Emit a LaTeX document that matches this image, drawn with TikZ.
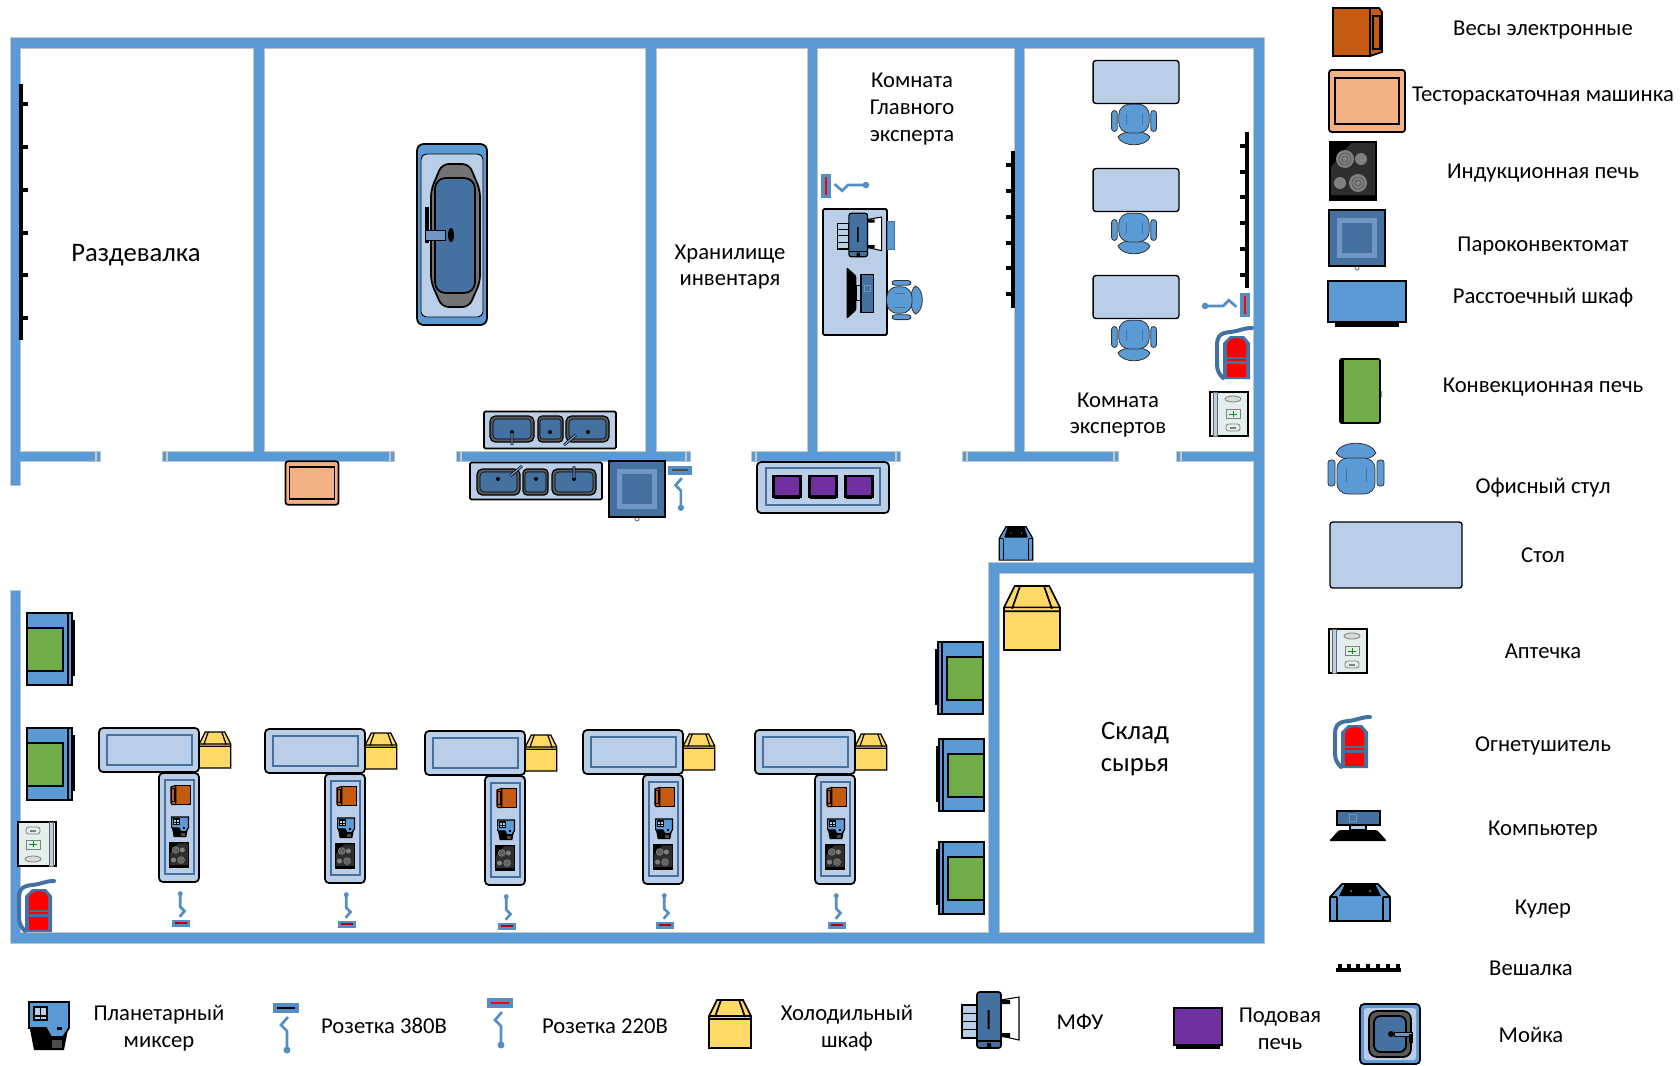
\documentclass[tikz,border=0pt]{standalone}
\usepackage{fontspec}
\setmainfont{Carlito}
\definecolor{wallblue}{HTML}{5B9BD5}
\definecolor{walledge}{HTML}{C8C8C8}
\definecolor{steelblue}{HTML}{44719F}
\definecolor{paleblue}{HTML}{BBCEE8}
\definecolor{midblue}{HTML}{6F96C4}
\definecolor{scaleorange}{HTML}{C55A11}
\definecolor{peach}{HTML}{F4B183}
\definecolor{ovengreen}{HTML}{70AD47}
\definecolor{fridgeyellow}{HTML}{FFD966}
\definecolor{ovenpurple}{HTML}{7030A0}
\definecolor{kitgreen}{HTML}{E3EFEC}
\def\outlw{1.3pt}
\tikzset{
	outl/.style={draw=black,line width=\outlw},
	small/.code={\def\outlw{0.9pt}},
	plantext/.style={font=\fontsize{17}{20}\selectfont,align=center},
	bigtext/.style={font=\fontsize{20}{24}\selectfont,align=center},
	pics/tablebox/.style={code={
		\draw[black,line width=1pt,fill=paleblue,rounded corners=2] (-66,-33) rectangle (66,33);
	}},
	pics/scalesbox/.style={code={
		\draw[outl,fill=scaleorange] (-24,-24) rectangle (13,24);
		\draw[outl,fill=scaleorange] (13,-24) -- (22,-24) -- (25,-20) -- (25,20) -- (13,24) -- cycle;
		\draw[outl] (16,-16) rectangle (23,17);
	}},
	pics/sheeterbox/.style={code={
		\draw[outl,fill=peach,rounded corners=2] (-38,-31) rectangle (38,31);
		\draw[outl] (-32,-23) rectangle (32,23);
	}},
	pics/inductionbox/.style={code={
		\fill[black] (-24,-30) rectangle (24,30);
		\fill[black!82] (-22,24) -- (-22,-4) -- (-2,-28) -- (22,-28) -- (22,24) -- cycle;
		\fill[gray] (-8,-12) circle (9) (8,-12) circle (6) (-13,12) circle (6) (5,12) circle (9);
		\draw[black!70,line width=0.4pt] (-8,-12) circle (6) (-8,-12) circle (3) (5,12) circle (6) (5,12) circle (3);
	}},
	pics/steambox/.style={code={
		\draw[black!70,line width=0.5pt] (0,30) circle (2);
		\draw[outl,fill=steelblue] (-28,-28) rectangle (28,28);
		\fill[midblue] (-20,-20) rectangle (20,20);
		\fill[steelblue] (-15,-15) rectangle (15,15);
	}},
	pics/prooferbox/.style={code={
		\fill[black] (-32,20) rectangle (32,25);
		\draw[outl,fill=wallblue] (-39,-21) rectangle (39,20);
	}},
	pics/convectionbox/.style={code={
		\fill[ovengreen] (-21,-24) rectangle (-19,-18) (-21,18) rectangle (-19,24) (19,0) rectangle (22,6);
		\draw[outl,fill=ovengreen,rounded corners=1] (-20,-32) rectangle (20,32);
		\fill[black] (-19,-31) rectangle (-16,31);
	}},
	pics/ovenstand/.style={code={
		\fill[black] (22,-29) rectangle (25,27);
		\draw[outl,fill=wallblue] (-23,-36) rectangle (22,36);
		\draw[outl] (18,-36) -- (18,36);
		\draw[black,line width=2pt,fill=ovengreen] (-23,-21) rectangle (13,22);
	}},
	pics/chairbox/.style={code={
		\draw[black!80,line width=0.6pt,fill=wallblue] (-20,-15) .. controls (-15,-28) and (15,-28) .. (20,-15) .. controls (15,-6) and (-15,-6) .. cycle;
		\draw[black!80,line width=0.6pt,fill=wallblue,rounded corners=2] (-28,-8) rectangle (-21,18);
		\draw[black!80,line width=0.6pt,fill=wallblue,rounded corners=2] (21,-8) rectangle (28,18);
		\draw[black!80,line width=0.6pt,fill=wallblue,rounded corners=8] (-19,-10) rectangle (19,26);
		\draw[steelblue,line width=0.5pt] (-10,0) -- (-10,14) (10,0) -- (10,14);
	}},
	pics/kitbox/.style={code={
		\draw[outl,fill=kitgreen] (-19,-22) rectangle (19,22);
		\draw[black!60,line width=0.6pt,fill=paleblue] (-16,-22) rectangle (-12,22);
		\draw[gray,line width=0.6pt,fill=gray!30] (4,-15) ellipse (8 and 3);
		\draw[gray,line width=0.6pt] (-3,-5) rectangle (11,4);
		\draw[green!60!black,line width=0.5pt] (0,0) -- (8,0) (4,-3) -- (4,3);
		\draw[gray,line width=0.6pt,rounded corners=2] (-3,10) rectangle (11,17);
		\fill[gray] (1,12.5) rectangle (7,14.5);
	}},
	pics/firebox/.style={code={
		\fill[steelblue] (-12,-10) -- (-5,-17) -- (9,-17) -- (15,-10) -- (15,26) -- (-12,26) -- cycle;
		\draw[steelblue,line width=3pt,line cap=round] (17,-25) .. controls (8,-25) and (5,-22) .. (-5,-21) .. controls (-17,-20) and (-18,-14) .. (-18,-8) -- (-18,12) .. controls (-18,18) and (-15,22) .. (-12,25);
		\fill[red] (-8,-8) .. controls (-8,-12) and (-3,-15) .. (2,-15) .. controls (7,-15) and (11,-12) .. (11,-8) -- (11,4) -- (-8,4) -- cycle;
		\fill[red] (-8,6) rectangle (11,7.5);
		\fill[red] (-8,11) rectangle (11,24);
	}},
	pics/computerbox/.style={code={
		\draw[outl,fill=steelblue] (-21,-15) rectangle (22,-1);
		\draw[midblue,line width=0.5pt] (-9,-12) rectangle (-2,-5);
		\draw[outl,fill=paleblue] (-8,-1) rectangle (8,4);
		\fill[black,rounded corners=1] (-29,15) -- (-19,4) -- (19,4) -- (29,15) -- cycle;
	}},
	pics/coolerbox/.style={code={
		\draw[outl,fill=wallblue] (-30,-5) -- (-18,-18) -- (18,-18) -- (30,-5) -- (30,19) -- (-30,19) -- cycle;
		\fill[black] (-21,-6) -- (-15,-18) -- (15,-18) -- (21,-6) -- cycle;
		\draw[outl] (-23,-5) -- (-23,19) (23,-5) -- (23,19) (-30,-5) -- (-23,-5) (23,-5) -- (30,-5);
		\fill[ovengreen] (-9,-11) circle (1) (10,-11) circle (1);
	}},
	pics/fridgebox/.style={code={
		\draw[outl,fill=fridgeyellow] (-21,-8) -- (-13,-24) -- (13,-24) -- (21,-8) -- (21,24) -- (-21,24) -- cycle;
		\draw[outl] (-15,-7) -- (-9,-24) (15,-7) -- (9,-24) (-21,-8) -- (21,-8) (-21,-5) -- (21,-5);
	}},
	pics/mixerbox/.style={code={
		\fill[black] (-20,-2) -- (-15,24) -- (15,24) -- (20,-2) -- cycle;
		\draw[outl,fill=wallblue] (-20,-24) -- (20,-24) -- (20,2) -- (14,11) -- (2,11) -- (-3,2) -- (-20,2) -- cycle;
		\draw[outl,fill=paleblue] (-15,-19) rectangle (-2,-6);
		\draw[outl] (-8.5,-19) -- (-8.5,-6) (-15,-10) -- (-2,-10);
		\fill[black] (8,1) rectangle (13,4);
		\fill[black!70] (3,14) rectangle (13,22);
	}},
	pics/socketbox/.style={code={
		\draw[wallblue!70!steelblue,line width=2pt] (2,-11) -- (-5,-3) -- (1,3) -- (1,20);
		\fill[wallblue!70!steelblue] (1,22) circle (3.5);
		\fill[wallblue!70!steelblue] (-13,-25) rectangle (13,-15);
		\draw[#1,line width=1.2pt] (-9,-20) -- (9,-20);
	}},
	pics/mfubox/.style={code={
		\draw[black,line width=0.8pt,fill=white] (11,-20) -- (29,-23) -- (29,20) -- (11,16) -- cycle;
		\fill[black] (11,-20) rectangle (20,-16) (11,13) rectangle (20,17);
		\draw[outl,fill=paleblue] (-28,-15) rectangle (-13,18);
		\draw[black,line width=0.5pt] (-28,-7) -- (-13,-7) (-28,1) -- (-13,1) (-28,9) -- (-13,9);
		\draw[outl,fill=steelblue,rounded corners=2] (-13,-28) rectangle (11,28);
		\draw[outl] (-13,21) -- (11,21);
		\fill[black] (-2.5,-10) rectangle (-0.5,9) (-3,23) rectangle (1,27);
	}},
	pics/ovenbox/.style={code={
		\fill[black] (-22,17) rectangle (22,21);
		\draw[black,line width=2pt,fill=ovenpurple] (-24,-20) rectangle (24,17);
	}},
	pics/sinkbox/.style={code={
		\draw[outl,fill=wallblue,rounded corners=3] (-30,-30) rectangle (30,30);
		\fill[paleblue,rounded corners=2] (-26,-26) rectangle (26,26);
		\draw[outl,fill=black!65,rounded corners=6] (-21,-23) rectangle (21,23);
		\draw[outl,fill=steelblue,rounded corners=5] (-16,-18) rectangle (16,18);
		\fill[black] (1,0) circle (3);
		\draw[black,line width=0.5pt,fill=midblue] (4,-2) rectangle (22,2);
		\fill[black] (19,0) rectangle (23,9);
	}},
	pics/sinktriple/.style={code={
		\draw[outl,fill=paleblue,rounded corners=1] (-66,-18.5) rectangle (66,18.5);
		\draw[black,line width=0.9pt,fill=black!65,rounded corners=4] (-60,-14) rectangle (-16,12);
		\draw[black,line width=0.9pt,fill=black!65,rounded corners=3] (-12,-14) rectangle (13,12);
		\draw[black,line width=0.9pt,fill=black!65,rounded corners=4] (16,-14) rectangle (59,12);
		\draw[black,line width=0.4pt,fill=steelblue,rounded corners=3] (-57,-11) rectangle (-19,9);
		\draw[black,line width=0.4pt,fill=steelblue,rounded corners=2] (-10,-11) rectangle (11,9);
		\draw[black,line width=0.4pt,fill=steelblue,rounded corners=3] (19,-11) rectangle (56,9);
		\fill[black] (-38,2) circle (2) (0,2) circle (2) (38,2) circle (2);
		\draw[black,line width=2pt] (-38,2) -- (-38,15) (26,5) -- (14,15);
		\draw[midblue,line width=1pt] (-38,3) -- (-38,15) (26,5) -- (14,15);
	}},
	pics/workstation/.style={code={
		\draw[outl,fill=paleblue,rounded corners=3] (0,0) rectangle (100,44);
		\draw[steelblue,line width=1pt] (8,7) rectangle (93,37);
		\pic[small,scale=.75] at (116,22) {fridgebox};
		\draw[outl,fill=paleblue,rounded corners=3] (60,45) rectangle (100,154);
		\draw[steelblue,line width=1pt] (66,52) rectangle (95,146);
		\pic[small,rotate=180,scale=.4] at (82,67) {scalesbox};
		\pic[small,scale=.42] at (81,99) {mixerbox};
		\pic[small,scale=.42] at (80,127) {inductionbox};
		\pic[rotate=180,scale=.7] at (82,181) {socketbox=red!70!black};
	}},
}
\newcommand{\wallplan}{
	(11,38) rectangle (1264,48)
	(11,38) rectangle (20,485)
	(11,591) rectangle (20,943)
	(11,933) rectangle (1264,943)
	(1254,38) rectangle (1264,400)
	(1254,400) rectangle (1264,943)
	(254,38) rectangle (264,456)
	(646,38) rectangle (656,456)
	(808,38) rectangle (817,456)
	(1015,48) rectangle (1024,456)
	(11,452) rectangle (100,461)
	(163,452) rectangle (394,461)
	(457,452) rectangle (690,461)
	(752,452) rectangle (900,461)
	(963,452) rectangle (1118,461)
	(1177,452) rectangle (1259,461)
	(989,563) rectangle (1259,573)
	(989,563) rectangle (999,938)
}

\begin{document}
\begin{tikzpicture}[x=0.75pt,y=-0.75pt]
	\useasboundingbox (0,0) rectangle (1680,1065);

	%Walls
	\draw[walledge,line width=1.6pt] \wallplan;
	\fill[wallblue] \wallplan;
	\draw[walledge,line width=0.8pt] (96,452) -- (96,461) (167,452) -- (167,461) (390,452) -- (390,461) (461,452) -- (461,461) (686,452) -- (686,461) (756,452) -- (756,461) (896,452) -- (896,461) (967,452) -- (967,461) (1114,452) -- (1114,461) (1181,452) -- (1181,461);

	%Shape: Hanger
	\draw[black,line width=3pt] (21,84) -- (21,340);
	\draw[black,line width=2.5pt] (21,104) -- ++(7,0) (21,147) -- ++(7,0) (21,190) -- ++(7,0) (21,233) -- ++(7,0) (21,275) -- ++(7,0) (21,318) -- ++(7,0);
	\draw[black,line width=3pt] (1013,151) -- (1013,308);
	\draw[black,line width=2.5pt] (1013,165) -- ++(-7,0) (1013,191) -- ++(-7,0) (1013,217) -- ++(-7,0) (1013,243) -- ++(-7,0) (1013,268) -- ++(-7,0) (1013,294) -- ++(-7,0);
	\draw[black,line width=3pt] (1247,132) -- (1247,288);
	\draw[black,line width=2.5pt] (1247,146) -- ++(-7,0) (1247,172) -- ++(-7,0) (1247,197) -- ++(-7,0) (1247,223) -- ++(-7,0) (1247,249) -- ++(-7,0) (1247,275) -- ++(-7,0);

	%Shape: Big sink
	\draw[outl,fill=wallblue,rounded corners=5] (417,144) rectangle (487,325);
	\draw[black,line width=0.7pt,fill=paleblue,rounded corners=4] (421,154) rectangle (483,317);
	\draw[outl,fill=black!55,rounded corners=5] (431,190) -- (442,164) -- (469,164) -- (480,190) -- (480,282) -- (469,307) -- (442,307) -- (431,282) -- cycle;
	\draw[outl,fill=steelblue,rounded corners=8] (435,178) rectangle (475,293);
	\fill[black] (425,207) rectangle (429,243);
	\draw[black,line width=0.5pt,fill=midblue] (425,230) rectangle (445,240);
	\fill[black] (451,235) ellipse (3 and 7);
	%Shape: Sinks
	\pic at (550,430) {sinktriple};
	\pic[rotate=180] at (536,481) {sinktriple};
	\pic at (637,489) {steambox};
	\pic[scale=.9] at (680,488) {socketbox=black!70};
	\pic[scale=.7] at (312,483) {sheeterbox};

	%Shape: Oven table
	\draw[outl,fill=paleblue,rounded corners=3] (757,462) rectangle (889,513);
	\draw[steelblue,line width=1pt] (766,468) rectangle (880,505);
	\pic[small,xscale=.57,yscale=.55] at (787,487) {ovenbox};
	\pic[small,xscale=.57,yscale=.55] at (823,487) {ovenbox};
	\pic[small,xscale=.57,yscale=.55] at (859,487) {ovenbox};

	%Shape: Chief expert desk
	\draw[outl,fill=paleblue,rounded corners=1] (823,209) rectangle (887,335);
	\draw[steelblue,line width=0.6pt,fill=wallblue] (887,221) rectangle (894,249);
	\pic[small,scale=.78] at (859,235) {mfubox};
	\pic[small,rotate=-90,scale=.9] at (860,293) {computerbox};
	\pic[rotate=-90,scale=.7] at (905,300) {chairbox};
	\pic[rotate=90,scale=.95] at (845,186) {socketbox=red};

	%Shape: Expert tables
	\pic[scale=.65] at (1136,82) {tablebox};
	\pic[scale=.65] at (1136,190) {tablebox};
	\pic[scale=.65] at (1136,297) {tablebox};
	\pic[rotate=180,scale=.8] at (1134,125) {chairbox};
	\pic[rotate=180,scale=.8] at (1134,234) {chairbox};
	\pic[rotate=180,scale=.8] at (1134,341) {chairbox};
	\pic[rotate=-90,scale=.95] at (1226,305) {socketbox=red};
	\pic at (1235,353) {firebox};
	\pic at (1229,414) {kitbox};

	%Shape: Storage
	\pic[small,xscale=.56,yscale=.9] at (1016,543) {coolerbox};
	\pic[scale=1.33] at (1032,618) {fridgebox};
	\pic[xscale=-1] at (960,678) {ovenstand};
	\pic[xscale=-1] at (961,775) {ovenstand};
	\pic[xscale=-1] at (961,878) {ovenstand};

	%Shape: Workshop
	\pic at (50,649) {ovenstand};
	\pic at (50,764) {ovenstand};
	\pic[rotate=180] at (37,844) {kitbox};
	\pic at (37,906) {firebox};
	\pic at (99,728) {workstation};
	\pic at (265,729) {workstation};
	\pic at (425,731) {workstation};
	\pic at (583,730) {workstation};
	\pic at (755,730) {workstation};

	%Legend right
	\pic at (1357,32) {scalesbox};
	\pic at (1367,101) {sheeterbox};
	\pic at (1353,171) {inductionbox};
	\pic at (1357,238) {steambox};
	\pic at (1367,302) {prooferbox};
	\pic at (1360,391) {convectionbox};
	\pic at (1356,468) {chairbox};
	\pic at (1396,555) {tablebox};
	\pic at (1348,651) {kitbox};
	\pic at (1353,742) {firebox};
	\pic at (1358,826) {computerbox};
	\pic at (1360,902) {coolerbox};
	\draw[black,line width=3pt] (1336,970) -- (1401,970);
	\draw[black,line width=2.5pt] (1340,970) -- ++(0,-6) (1349,970) -- ++(0,-6) (1358,970) -- ++(0,-6) (1368,970) -- ++(0,-6) (1378,970) -- ++(0,-6) (1388,970) -- ++(0,-6) (1398,970) -- ++(0,-6);
	\pic at (1390,1034) {sinkbox};

	%Legend bottom
	\pic at (49,1026) {mixerbox};
	\pic at (286,1028) {socketbox=black};
	\pic at (500,1023) {socketbox=red};
	\pic at (730,1024) {fridgebox};
	\pic at (990,1020) {mfubox};
	\pic at (1198,1028) {ovenbox};

	% Text Node
	\node[bigtext] (lblRazdevalka) at (136,255) {Раздевалка};
	\node[plantext] (lblGlavny) at (912,109) {Комната\\Главного\\эксперта};
	\node[plantext] (lblHranilishe) at (730,267) {Хранилище\\инвентаря};
	\node[plantext] (lblExperty) at (1118,415) {Комната\\экспертов};
	\node[bigtext] (lblSklad) at (1135,749) {Склад\\сырья};
	% Text Node
	\node[plantext] (keyVesy) at (1543,30) {Весы электронные};
	\node[plantext] (keySheeter) at (1543,96) {Тестораскаточная машинка};
	\node[plantext] (keyInduction) at (1543,173) {Индукционная печь};
	\node[plantext] (keySteam) at (1543,246) {Пароконвектомат};
	\node[plantext] (keyProofer) at (1543,298) {Расстоечный шкаф};
	\node[plantext] (keyConvection) at (1543,387) {Конвекционная печь};
	\node[plantext] (keyChair) at (1543,488) {Офисный стул};
	\node[plantext] (keyTable) at (1543,555) {Стол};
	\node[plantext] (keyKit) at (1543,651) {Аптечка};
	\node[plantext] (keyFire) at (1543,746) {Огнетушитель};
	\node[plantext] (keyComputer) at (1543,830) {Компьютер};
	\node[plantext] (keyCooler) at (1543,909) {Кулер};
	\node[plantext] (keyHanger) at (1531,968) {Вешалка};
	\node[plantext] (keySink) at (1531,1035) {Мойка};
	% Text Node
	\node[plantext] (keyMixer) at (159,1028) {Планетарный\\миксер};
	\node[plantext] (keySocketA) at (384,1026) {Розетка 380В};
	\node[plantext] (keySocketB) at (605,1026) {Розетка 220В};
	\node[plantext] (keyFridge) at (847,1028) {Холодильный\\шкаф};
	\node[plantext] (keyMfu) at (1080,1022) {МФУ};
	\node[plantext] (keyOven) at (1280,1029) {Подовая\\печь};

\end{tikzpicture}
\end{document}
